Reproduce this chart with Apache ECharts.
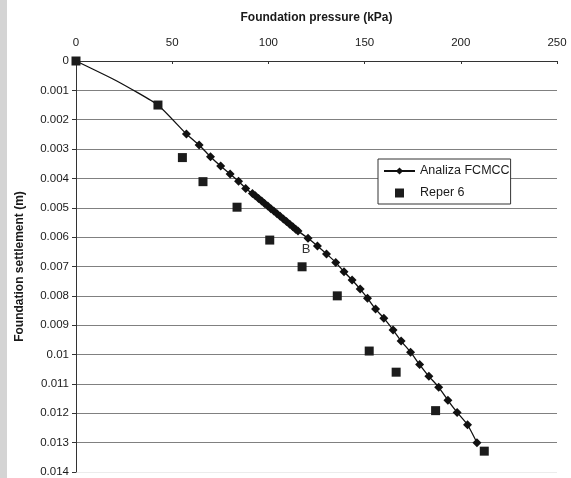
<!DOCTYPE html>
<html>
<head>
<meta charset="utf-8">
<script src="https://cdn.jsdelivr.net/npm/echarts@6/dist/echarts.min.js"></script>
<style>
html,body{margin:0;padding:0;background:#fff;}
#chart{width:571px;height:478px;}
</style>
</head>
<body>
<div id="chart"></div>
<script>
// ---- data ----
const xTicks = [0, 50, 100, 150, 200, 250];
const yTicks = [0, 0.001, 0.002, 0.003, 0.004, 0.005, 0.006, 0.007, 0.008, 0.009, 0.01, 0.011, 0.012, 0.013, 0.014];

const fcmccName = 'Analiza FCMCC';
const fcmccPressure = [0, 21.2, 42.6, 57.4, 64.0, 69.9, 75.2, 80.1, 84.5, 88.2,
  91.7, 93.2, 94.9, 96.5, 98.0, 99.7, 101.3, 102.8, 104.5, 106.1, 107.8, 109.4, 111.1, 112.7, 114.2, 115.4,
  120.6, 125.5, 130.2, 135.0, 139.3, 143.5, 147.7, 151.5, 155.7, 160.0, 164.8, 169.0, 173.9, 178.6, 183.4, 188.5, 193.3, 198.1, 203.5, 208.4];
const fcmccSettlement = [0, 0.00068, 0.0015, 0.00249, 0.00286, 0.00326, 0.00358, 0.00385, 0.00410, 0.00434,
  0.00451, 0.00459, 0.00468, 0.00477, 0.00485, 0.00494, 0.00503, 0.00511, 0.00520, 0.00529, 0.00538, 0.00547, 0.00556, 0.00565, 0.00573, 0.00579,
  0.00604, 0.00630, 0.00657, 0.00686, 0.00718, 0.00746, 0.00777, 0.00808, 0.00845, 0.00876, 0.00916, 0.00954, 0.00992, 0.01034, 0.01074, 0.01111, 0.01156, 0.01197, 0.01239, 0.01300];
const fcmccUnmarked = 3; // first points of the analysis curve carry no marker

const reperName = 'Reper 6';
const reperPressure = [0, 42.6, 55.3, 66.0, 83.7, 100.7, 117.5, 135.8, 152.4, 166.4, 186.9, 212.2];
const reperSettlement = [0, 0.0015, 0.00329, 0.00411, 0.00498, 0.0061, 0.00701, 0.0080, 0.00988, 0.0106, 0.01191, 0.01329];

const annotationText = ['B'];
const annotationPressure = [119.6];
const annotationSettlement = [0.00641];

// ---- chart ----
const zip = (a, b) => a.map((v, i) => [v, b[i]]);
const font = 'Liberation Sans, Arial, sans-serif';
const gridColors = yTicks.map((v, i) => i === yTicks.length - 1 ? '#ececec' : '#808080');

const chart = echarts.init(document.getElementById('chart'), null, {renderer: 'canvas'});
chart.setOption({
  animation: false,
  backgroundColor: '#fff',
  textStyle: {fontFamily: font},
  graphic: [{type: 'rect', left: 0, top: 0, shape: {width: 7, height: 478}, style: {fill: '#d4d4d4'}, silent: true, z: -1}],
  grid: {left: 76, right: 14, top: 61, bottom: 6, outerBoundsMode: 'none', containLabel: false},
  legend: {
    orient: 'vertical', left: 378, top: 159,
    padding: [5, 1, 4, 5],
    backgroundColor: '#fff', borderColor: '#333', borderWidth: 1,
    itemWidth: 31, itemHeight: 9, itemGap: 8,
    symbolKeepAspect: true,
    textStyle: {fontSize: 12.5, color: '#1a1a1a', fontFamily: font, lineHeight: 14},
    data: [fcmccName, {name: reperName, icon: 'path://M0 0H10V10H0Z'}]
  },
  xAxis: {
    type: 'value', position: 'top', min: xTicks[0], max: xTicks[xTicks.length - 1], interval: xTicks[1] - xTicks[0],
    name: 'Foundation pressure (kPa)', nameLocation: 'middle', nameGap: 37,
    nameTextStyle: {fontSize: 12, fontWeight: 'bold', color: '#1a1a1a', fontFamily: font},
    axisLine: {show: true, lineStyle: {color: '#333', width: 1}},
    axisTick: {show: true, inside: true, length: 3, lineStyle: {color: '#333'}},
    axisLabel: {fontSize: 11.5, color: '#1a1a1a', margin: 12, fontFamily: font},
    splitLine: {show: false}
  },
  yAxis: {
    type: 'value', inverse: true, min: yTicks[0], max: yTicks[yTicks.length - 1], interval: yTicks[1] - yTicks[0],
    name: 'Foundation settlement (m)', nameLocation: 'middle', nameGap: 50,
    nameTextStyle: {fontSize: 12, fontWeight: 'bold', color: '#1a1a1a', fontFamily: font},
    axisLine: {show: true, lineStyle: {color: '#333', width: 1}},
    axisTick: {show: true, inside: false, length: 4, lineStyle: {color: '#333'}},
    axisLabel: {fontSize: 11.5, color: '#1a1a1a', margin: 7, fontFamily: font,
      formatter: v => String(Number(v.toFixed(3)))},
    splitLine: {show: true, lineStyle: {color: gridColors, width: 1}}
  },
  series: [
    {
      name: fcmccName, type: 'line', data: zip(fcmccPressure, fcmccSettlement),
      smooth: 0.15, symbol: 'diamond',
      symbolSize: (v, p) => (p && p.dataIndex < fcmccUnmarked) ? 0 : 9,
      symbolKeepAspect: true,
      lineStyle: {color: '#111', width: 1.3},
      itemStyle: {color: '#111'},
      z: 3,
      markPoint: {
        symbol: 'circle', symbolSize: 1,
        itemStyle: {color: 'rgba(0,0,0,0)'},
        label: {show: true, position: 'inside', fontSize: 13, color: '#333', fontFamily: font, formatter: p => p.name},
        data: annotationText.map((t, i) => ({name: t, coord: [annotationPressure[i], annotationSettlement[i]], value: t}))
      }
    },
    {
      name: reperName, type: 'scatter', data: zip(reperPressure, reperSettlement),
      symbol: 'rect', symbolSize: 9, symbolKeepAspect: true,
      itemStyle: {color: '#1c1c1c', opacity: 1},
      z: 4
    }
  ]
});
</script>
</body>
</html>
